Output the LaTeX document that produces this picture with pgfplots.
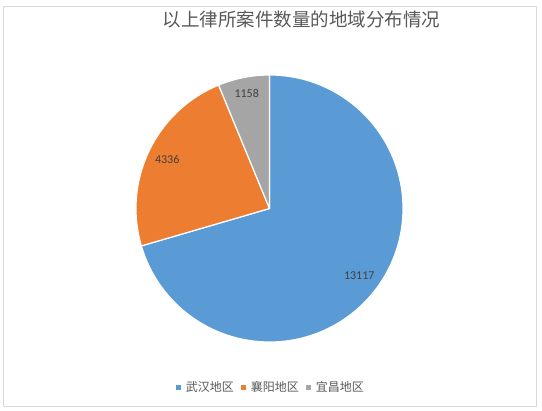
\documentclass[border=0pt]{standalone}
\usepackage{pgfplots}
\usepackage{pgfplotstable}
\pgfplotsset{compat=1.18}
\usepackage{fontspec}
\setmainfont{Carlito}
\newfontfamily\cjk{Noto Sans CJK SC}
\definecolor{pieblue}{HTML}{5B9BD5}
\definecolor{pieorange}{HTML}{ED7D31}
\definecolor{piegray}{HTML}{A5A5A5}
\definecolor{textgray}{HTML}{595959}
\definecolor{labelgray}{HTML}{404040}
\definecolor{framegray}{HTML}{D9D9D9}

\pgfplotstableread{
region value
武汉地区 13117
襄阳地区 4336
宜昌地区 1158
}\piedata

% slice sizes from the table, angles clockwise from 12 o'clock
\pgfplotstablegetelem{0}{value}\of\piedata \let\va\pgfplotsretval
\pgfplotstablegetelem{1}{value}\of\piedata \let\vb\pgfplotsretval
\pgfplotstablegetelem{2}{value}\of\piedata \let\vc\pgfplotsretval
\edef\total{\fpeval{\va+\vb+\vc}}
\edef\ea{\fpeval{round(90-360*\va/\total,3)}}
\edef\eb{\fpeval{round(\ea-360*\vb/\total,3)}}
\edef\ec{\fpeval{round(\eb-360*\vc/\total,3)}}
\edef\ma{\fpeval{(90+\ea)/2}}
\edef\mb{\fpeval{(\ea+\eb)/2}}
\edef\mc{\fpeval{(\eb+\ec)/2}}
\def\cx{269.5}\def\cy{201.5}\def\R{133.5}
\edef\lxa{\fpeval{round(\cx+0.84*\R*cosd(\ma),2)}}\edef\lya{\fpeval{round(\cy+0.84*\R*sind(\ma),2)}}
\edef\lxb{\fpeval{round(\cx+0.85*\R*cosd(\mb),2)}}\edef\lyb{\fpeval{round(\cy+0.85*\R*sind(\mb),2)}}
\edef\lxc{\fpeval{round(\cx+0.88*\R*cosd(\mc),2)}}\edef\lyc{\fpeval{round(\cy+0.88*\R*sind(\mc),2)}}

\begin{document}
\begin{tikzpicture}
\begin{axis}[
    x=1bp, y=1bp,
    xmin=0, xmax=542, ymin=0, ymax=410,
    hide axis,
    clip=false,
    title={\cjk 以上律所案件数量的地域分布情况},
    title style={at={(axis cs:301.5,384.5)}, anchor=center,
        font=\fontsize{18.5bp}{22bp}\selectfont, text=textgray},
    legend columns=3,
    legend image code/.code={\path[#1, draw=none] (0bp,-2.5bp) rectangle (5bp,2.5bp);},
    legend style={at={(axis cs:270,22.5)}, anchor=center, draw=none, fill=none,
        font=\cjk\fontsize{12bp}{14bp}\selectfont, text=textgray,
        nodes={inner sep=0pt},
        /tikz/every odd column/.append style={column sep=4.5bp},
        /tikz/every even column/.append style={column sep=7.5bp}},
]
\fill[white] (axis cs:0,0) rectangle (axis cs:542,410);
\draw[framegray, line width=0.75bp] (axis cs:3,4) rectangle (axis cs:536,404);
\addlegendimage{fill=pieblue}
\addlegendentry{武汉地区}
\addlegendimage{fill=pieorange}
\addlegendentry{襄阳地区}
\addlegendimage{fill=piegray}
\addlegendentry{宜昌地区}
\filldraw[fill=pieblue, draw=white, line width=1.2bp, line join=round]
    (axis cs:\cx,\cy) -- ++(90:\R bp) arc[start angle=90, end angle=\ea, radius=\R bp] -- cycle;
\filldraw[fill=pieorange, draw=white, line width=1.2bp, line join=round]
    (axis cs:\cx,\cy) -- ++(\ea:\R bp) arc[start angle=\ea, end angle=\eb, radius=\R bp] -- cycle;
\filldraw[fill=piegray, draw=white, line width=1.2bp, line join=round]
    (axis cs:\cx,\cy) -- ++(\eb:\R bp) arc[start angle=\eb, end angle=\ec, radius=\R bp] -- cycle;
\node[font=\fontsize{12bp}{14bp}\selectfont, text=labelgray] at (axis cs:\lxa,\lya) {\va};
\node[font=\fontsize{12bp}{14bp}\selectfont, text=labelgray] at (axis cs:\lxb,\lyb) {\vb};
\node[font=\fontsize{12bp}{14bp}\selectfont, text=labelgray] at (axis cs:\lxc,\lyc) {\vc};
\end{axis}
\end{tikzpicture}
\end{document}
